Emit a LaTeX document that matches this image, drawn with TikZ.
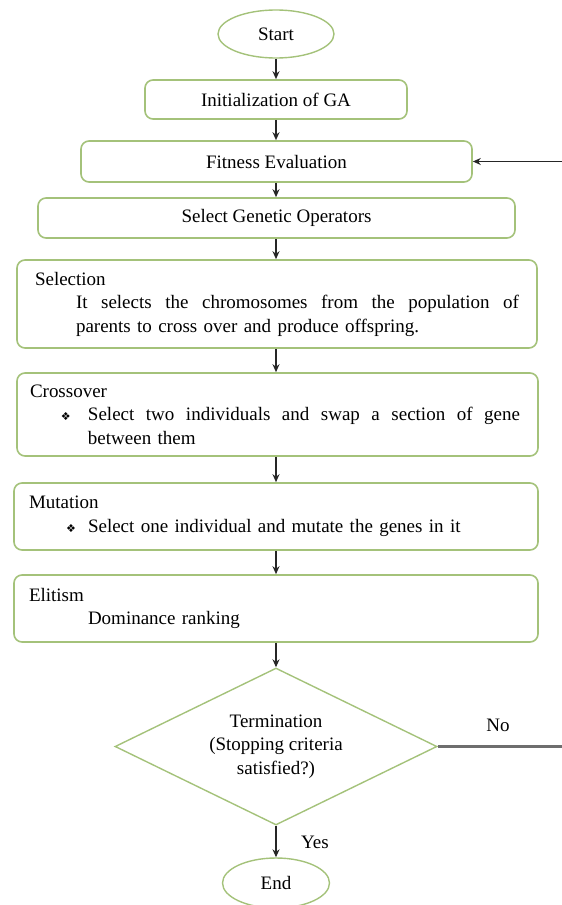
\documentclass[tikz,border=0pt]{standalone}
\usepackage{fontspec}
\setmainfont{Liberation Serif}
\newfontfamily\symfont{DejaVu Sans}
\usetikzlibrary{shapes.geometric,arrows.meta}
\definecolor{boxgreen}{HTML}{A4C27A}
\definecolor{nogray}{HTML}{6E6E6E}
\newcommand{\bulletdia}{{\symfont\fontsize{11}{11}\selectfont ❖}}
\begin{document}
\begin{tikzpicture}[x=1pt,y=-1pt,
  every node/.style={font=\fontsize{19}{23.5}\selectfont},
  boxnode/.style={draw=boxgreen, line width=1.6pt, rounded corners=8pt, fill=white, inner sep=0pt},
  term/.style={draw=boxgreen, line width=1.4pt, ellipse, inner sep=0pt},
  arr/.style={-{Stealth[length=8pt,width=7pt]}, line width=1.6pt, black!85},
]
\useasboundingbox (0,0) rectangle (562,905);
\node[term, minimum width=116pt, minimum height=48pt] (start) at (276,34) {Start};
\node[boxnode, minimum width=262pt, minimum height=39pt] (init) at (276,99.5) {Initialization of GA};
\node[boxnode, minimum width=391pt, minimum height=41pt] (fit) at (276.5,161.5) {Fitness Evaluation};
\node[boxnode, minimum width=477pt, minimum height=40pt] (sgo) at (276.5,218) {Select Genetic Operators};
\node[boxnode, minimum width=520pt, minimum height=88pt, text width=484pt, align=left] (sel) at (277,304)
  {Selection\\
   \hspace*{41pt}\makebox[443pt][l]{It\hfill selects\hfill the\hfill chromosomes\hfill from\hfill the\hfill population\hfill of}\\
   \hspace*{41pt}parents to cross over and produce offspring.};
\node[boxnode, minimum width=521pt, minimum height=83pt, text width=495pt, align=left] (cross) at (277.5,414.5)
  {Crossover\\
   \hspace*{31pt}\makebox[27pt][l]{\bulletdia}\makebox[432pt][l]{Select\hfill two\hfill individuals\hfill and\hfill swap\hfill a\hfill section\hfill of\hfill gene}\\
   \hspace*{58pt}between them};
\node[boxnode, minimum width=524pt, minimum height=67pt, text width=494pt, align=left] (mut) at (276,516.5)
  {Mutation\\
   \hspace*{37pt}\makebox[22pt][l]{\bulletdia}Select one individual and mutate the genes in it};
\node[boxnode, minimum width=524pt, minimum height=67pt, text width=494pt, align=left] (elit) at (276,608.5)
  {Elitism\\
   \hspace*{59pt}Dominance ranking};
\node[draw=boxgreen, line width=1.4pt, diamond, aspect=2.04, minimum width=322pt, minimum height=157pt,
  inner sep=0pt, align=center] (dec) at (276,746.5) {Termination\\(Stopping criteria\\satisfied?)};
\node[term, minimum width=107pt, minimum height=50pt] (end) at (276,883) {End};
\node (nolbl) at (498,725) {No};
\node (yeslbl) at (315,842) {Yes};
\coordinate (fbin) at (562,161.5);
\coordinate (noout) at (562,746.5);
\draw[arr] (start.south) -- (init.north);
\draw[arr] (init.south) -- (init.south |- fit.north);
\draw[arr] (fit.south -| init.south) -- (init.south |- sgo.north);
\draw[arr] (sgo.south -| init.south) -- (init.south |- sel.north);
\draw[arr] (sel.south -| init.south) -- (init.south |- cross.north);
\draw[arr] (cross.south -| init.south) -- (init.south |- mut.north);
\draw[arr] (mut.south) -- (elit.north);
\draw[arr] (elit.south) -- (dec.north);
\draw[arr] (dec.south) -- (end.north);
\draw[arr] (fbin) -- (fit.east);
\draw[nogray, line width=2.5pt] (dec.east) -- (noout);
\end{tikzpicture}
\end{document}
